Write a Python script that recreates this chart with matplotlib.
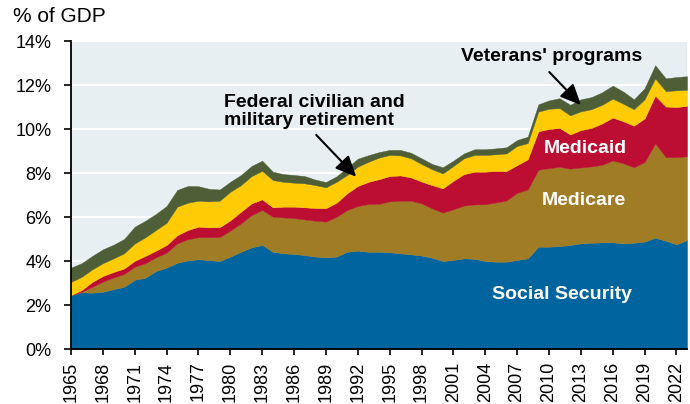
import matplotlib
matplotlib.use("Agg")
import matplotlib.pyplot as plt
import numpy as np

plt.rcParams["font.family"] = ["Liberation Sans", "DejaVu Sans"]

# data: % of GDP
years = list(range(1965, 2024))

social_security = [
    2.45, 2.58, 2.56, 2.60, 2.72, 2.83, 3.15, 3.24, 3.55, 3.70,
    3.92, 4.03, 4.08, 4.04, 4.00, 4.20, 4.42, 4.62, 4.73, 4.42,
    4.35, 4.32, 4.27, 4.20, 4.17, 4.20, 4.42, 4.47, 4.42, 4.42,
    4.40, 4.35, 4.30, 4.25, 4.15, 4.00, 4.05, 4.12, 4.10, 4.00,
    3.97, 3.97, 4.05, 4.12, 4.65, 4.65, 4.68, 4.73, 4.80, 4.83,
    4.85, 4.85, 4.80, 4.83, 4.88, 5.06, 4.92, 4.76, 4.95,
]
medicare = [
    0.00, 0.02, 0.27, 0.46, 0.53, 0.58, 0.59, 0.66, 0.62, 0.68,
    0.88, 0.96, 1.00, 1.04, 1.09, 1.18, 1.29, 1.47, 1.59, 1.59,
    1.63, 1.63, 1.62, 1.63, 1.62, 1.81, 1.90, 2.03, 2.17, 2.18,
    2.31, 2.39, 2.44, 2.37, 2.24, 2.20, 2.30, 2.40, 2.47, 2.58,
    2.69, 2.78, 3.05, 3.13, 3.50, 3.57, 3.60, 3.47, 3.45, 3.47,
    3.52, 3.72, 3.64, 3.43, 3.62, 4.29, 3.80, 3.96, 3.81,
]
medicaid = [
    0.00, 0.08, 0.22, 0.26, 0.25, 0.25, 0.27, 0.33, 0.30, 0.35,
    0.37, 0.42, 0.48, 0.45, 0.45, 0.47, 0.53, 0.53, 0.48, 0.43,
    0.49, 0.52, 0.55, 0.58, 0.61, 0.64, 0.76, 0.91, 1.01, 1.12,
    1.15, 1.15, 1.06, 0.99, 1.06, 1.10, 1.30, 1.43, 1.49, 1.48,
    1.43, 1.34, 1.26, 1.37, 1.75, 1.78, 1.77, 1.55, 1.70, 1.75,
    1.88, 1.95, 1.91, 1.89, 1.98, 2.17, 2.30, 2.28, 2.29,
]
retirement = [
    0.60, 0.60, 0.57, 0.58, 0.62, 0.69, 0.79, 0.85, 0.94, 1.01,
    1.30, 1.24, 1.18, 1.18, 1.20, 1.30, 1.21, 1.24, 1.30, 1.24,
    1.13, 1.09, 1.09, 1.04, 0.95, 0.95, 0.83, 0.88, 0.91, 0.98,
    0.96, 0.91, 0.87, 0.80, 0.72, 0.68, 0.67, 0.72, 0.76, 0.76,
    0.76, 0.80, 0.87, 0.74, 0.89, 0.92, 0.90, 0.87, 0.85, 0.85,
    0.85, 0.86, 0.80, 0.75, 0.87, 0.78, 0.70, 0.76, 0.73,
]
veterans = [
    0.65, 0.62, 0.61, 0.63, 0.62, 0.65, 0.76, 0.75, 0.73, 0.76,
    0.76, 0.76, 0.66, 0.57, 0.51, 0.45, 0.46, 0.46, 0.46, 0.38,
    0.35, 0.35, 0.33, 0.25, 0.24, 0.25, 0.33, 0.36, 0.30, 0.25,
    0.23, 0.25, 0.25, 0.26, 0.24, 0.28, 0.24, 0.22, 0.26, 0.26,
    0.27, 0.28, 0.27, 0.29, 0.33, 0.38, 0.45, 0.48, 0.55, 0.55,
    0.57, 0.59, 0.55, 0.45, 0.50, 0.60, 0.58, 0.60, 0.62,
]

colors = ["#00659f", "#a07d25", "#bc0e33", "#ffcb05", "#4e5f37"]

fig = plt.figure(figsize=(6.9, 4.04), dpi=100)
ax = fig.add_axes([0.1029, 0.1361, 0.8928, 0.7624])
ax.set_facecolor("#e7eff3")

ax.stackplot(
    years,
    social_security, medicare, medicaid, retirement, veterans,
    colors=colors, edgecolor="face", linewidth=0.3, zorder=3,
)

ax.set_xlim(1965, 2023)
ax.set_ylim(0, 14)
ax.set_yticks(np.arange(0, 15, 2))
ax.set_yticklabels([f"{v}%" for v in range(0, 15, 2)])
ax.set_xticks(range(1965, 2024, 3))
ax.set_xticklabels([str(y) for y in range(1965, 2024, 3)], rotation=90)

ax.grid(axis="y", color="white", linewidth=1.6, zorder=1)
ax.set_axisbelow(True)
for s in ("top", "right"):
    ax.spines[s].set_visible(False)
for s in ("left", "bottom"):
    ax.spines[s].set_linewidth(1.3)
    ax.spines[s].set_color("black")
    ax.spines[s].set_zorder(5)
ax.tick_params(axis="y", direction="out", length=5, width=1.2, pad=9, labelsize=13)
ax.tick_params(axis="x", direction="out", length=4, width=1.2, pad=5, labelsize=13)

fig.text(0.019, 0.945, "% of GDP", fontsize=15, ha="left", va="baseline")

bold = dict(fontsize=14, fontweight="bold")
ax.text(1979.36, 10.18, "Federal civilian and\nmilitary retirement",
        ha="left", va="baseline", linespacing=1.1, color="black", zorder=6, **bold)
ax.text(2001.75, 13.07, "Veterans' programs", ha="left", va="baseline",
        color="black", zorder=6, **bold)
ax.text(2013.42, 8.91, "Medicaid", ha="center", va="baseline", color="white", zorder=6, **bold)
ax.text(2013.32, 6.545, "Medicare", ha="center", va="baseline", color="white", zorder=6, **bold)
ax.text(2011.2, 2.27, "Social Security", ha="center", va="baseline", color="white", zorder=6, **bold)

arrow = dict(arrowstyle="-|>,head_length=0.7,head_width=0.32", color="black",
             lw=1.5, mutation_scale=18, shrinkA=0, shrinkB=0)
ax.annotate("", xy=(1991.85, 7.83), xytext=(1988.09, 9.73), arrowprops=arrow, zorder=7)
ax.annotate("", xy=(2013.01, 11.09), xytext=(2010.03, 12.59), arrowprops=arrow, zorder=7)

fig.savefig("out.png", dpi=100)
